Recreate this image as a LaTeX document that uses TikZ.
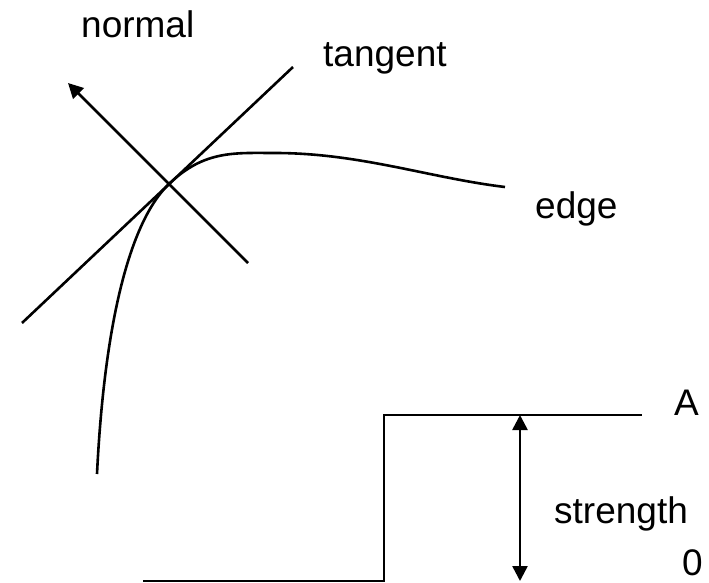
\documentclass[tikz,border=0pt]{standalone}
\usepackage{fontspec}
\setmainfont{Liberation Sans}
\usetikzlibrary{arrows.meta}
\tikzset{
  line/.style={line width=2.6pt},
  arrowline/.style={line width=2.6pt, -{Triangle[length=15pt,width=15pt]}},
  label/.style={inner sep=0pt, anchor=base west, font=\fontsize{37}{44}\selectfont}
}
\begin{document}
\begin{tikzpicture}[x=1pt,y=-1pt]
\useasboundingbox (0,0) rectangle (709,583);
% edge point and its lines
\coordinate (p) at (170,183);
\coordinate (tanlow) at (22,323);
\coordinate (tanhigh) at (293,67);
\coordinate (normtail) at (248,263);
\coordinate (normtip) at (68,83);
\coordinate (edgelow) at (97,474);
\coordinate (edgetop) at (275,153);
\coordinate (edgeend) at (505,187);
\draw[line] (tanlow) -- (tanhigh);
\draw[arrowline] (normtail) -- (normtip);
\draw[line] (edgelow) .. controls (104,330) and (128,222) .. (p)
  .. controls (205,150) and (235,153) .. (edgetop)
  .. controls (360,153) and (430,178) .. (edgeend);
\node[label] (normal) at (81,38) {normal};
\node[label] (tangent) at (323,67) {tangent};
\node[label] (edge) at (535,218) {edge};
% step profile
\coordinate (s0) at (143,581);
\coordinate (s1) at (384,581);
\coordinate (s2) at (384,415);
\coordinate (s3) at (642,415);
\draw[line] (s0) -- (s1) -- (s2) -- (s3);
\coordinate (atop) at (520,415);
\coordinate (abot) at (520,581);
\draw[line, {Triangle[length=15pt,width=15pt]}-{Triangle[length=15pt,width=15pt]}] (abot) -- (atop);
\node[label] (A) at (674,415) {A};
\node[label] (strength) at (554,523) {strength};
\node[label] (zero) at (682,575) {0};
\end{tikzpicture}
\end{document}
